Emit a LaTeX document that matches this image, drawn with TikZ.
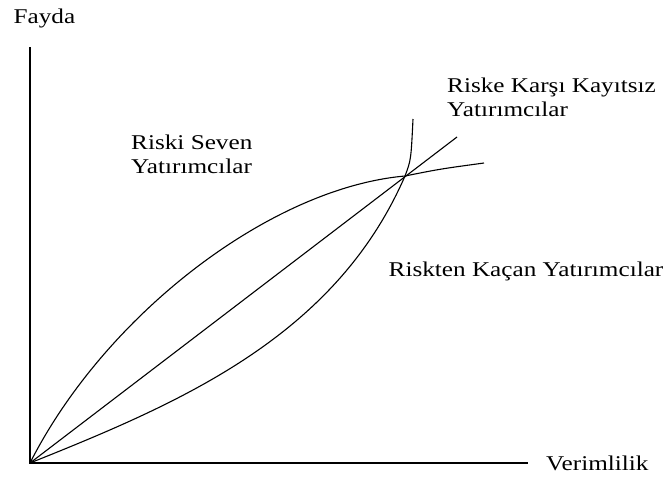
\documentclass[tikz,border=0pt]{standalone}
\usepackage{fontspec}
\setmainfont{Liberation Serif}
\usetikzlibrary{positioning}

\begin{document}
\begin{tikzpicture}[x=1pt, y=-1pt,
  axis/.style={line width=1.6pt},
  curve/.style={line width=1.1pt},
  lbl/.style={inner sep=0pt, font=\fontsize{21}{24}\selectfont, xscale=1.2, align=left}
]
\useasboundingbox (0,0) rectangle (669,477);

% Axes
\coordinate (O) at (30,463);
\coordinate (ytop) at (30,47);
\coordinate (xend) at (528,463);
\draw[axis] (ytop) -- (O) -- (xend);

\node[lbl, above=19pt of ytop, xshift=12pt] (fayda) {Fayda};
\node[lbl, anchor=west, right=18pt of xend] (verim) {Verimlilik};

% Common point of the three curves
\coordinate (P) at (405,176);

% Concave curve
\coordinate (concend) at (484,163);
\draw[curve] (O) .. controls (105,315) and (270,188) .. (P)
  .. controls (440,169) .. (concend);

% Straight line
\coordinate (lineend) at (457,137);
\draw[curve] (O) -- (lineend);

% Convex curve
\coordinate (convend) at (413,119);
\draw[curve] (O) .. controls (180,403) and (335,337) .. (P)
  .. controls (411,160) .. (convend);

% Labels
\node[lbl, anchor=north west] (seven) at (131,135) {Riski Seven\\Yatırımcılar};
\node[lbl, anchor=north west] (kayitsiz) at (447,78) {Riske Karşı Kayıtsız\\Yatırımcılar};
\node[lbl] (kacan) at (526,271) {Riskten Kaçan Yatırımcılar};
\end{tikzpicture}
\end{document}
